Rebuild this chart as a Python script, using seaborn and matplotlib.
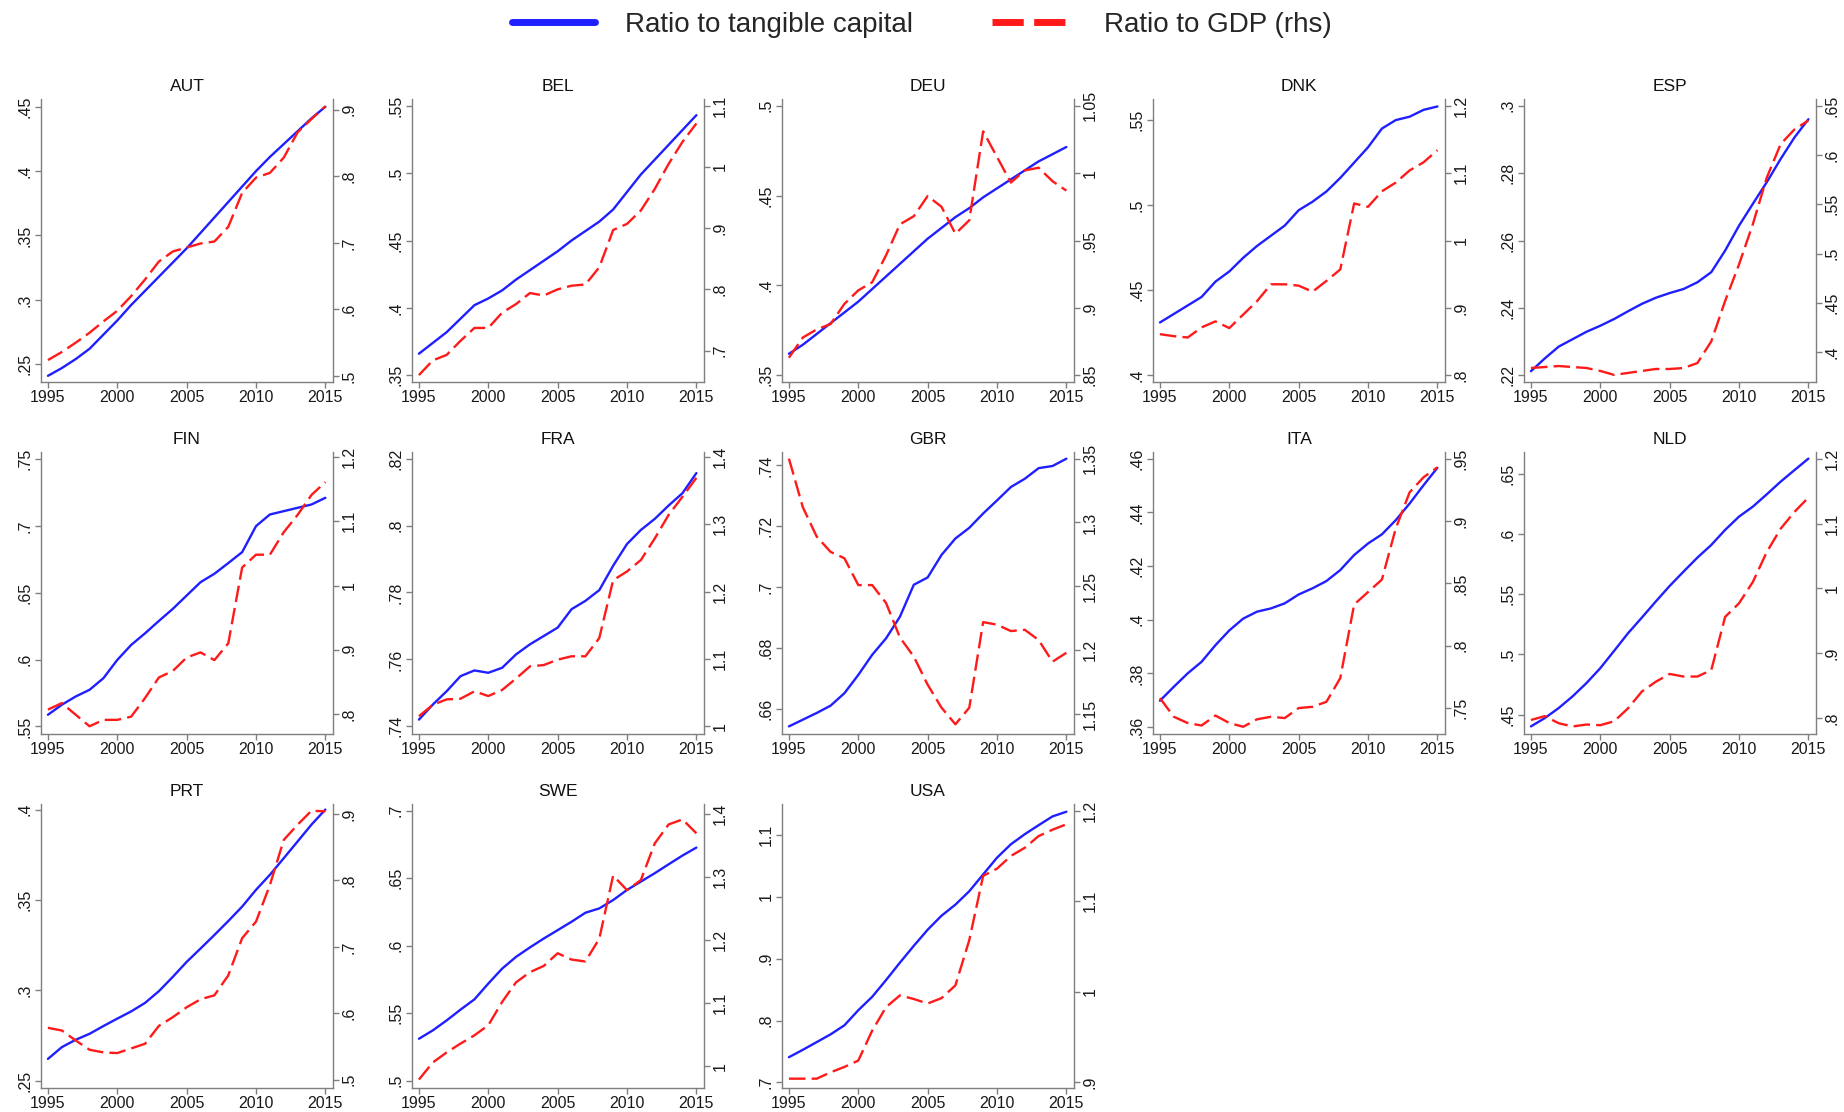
import matplotlib
matplotlib.use("Agg")
import matplotlib.pyplot as plt
from matplotlib.lines import Line2D
import seaborn as sns
import pandas as pd
import numpy as np

years = list(range(1995, 2016))
countries = ["AUT", "BEL", "DEU", "DNK", "ESP", "FIN", "FRA", "GBR", "ITA", "NLD", "PRT", "SWE", "USA"]

aut_cap = [.241,.247,.254,.262,.273,.284,.296,.307,.318,.329,.340,.352,.364,.376,.388,.400,.411,.421,.431,.441,.450]
aut_gdp = [.524,.536,.550,.565,.582,.598,.620,.645,.672,.687,.693,.699,.702,.724,.775,.798,.805,.828,.866,.886,.905]
bel_cap = [.366,.374,.382,.392,.402,.407,.413,.421,.428,.435,.442,.450,.457,.464,.473,.486,.499,.510,.521,.532,.543]
bel_gdp = [.660,.684,.693,.716,.737,.737,.762,.776,.794,.790,.800,.806,.808,.836,.897,.907,.929,.964,1.005,1.041,1.071]
deu_cap = [.362,.367,.373,.379,.385,.391,.398,.405,.412,.419,.426,.432,.438,.443,.449,.454,.459,.464,.469,.473,.477]
deu_gdp = [.863,.878,.884,.888,.903,.913,.919,.939,.962,.968,.983,.975,.955,.965,1.031,1.012,.993,1.002,1.004,.994,.987]
dnk_cap = [.431,.436,.441,.446,.455,.461,.469,.476,.482,.488,.497,.502,.508,.516,.525,.534,.545,.550,.552,.556,.558]
dnk_gdp = [.861,.858,.856,.871,.880,.870,.890,.910,.935,.935,.933,.924,.940,.957,1.055,1.050,1.073,1.086,1.104,1.116,1.134]
esp_cap = [.2212,.2250,.2285,.2307,.2329,.2347,.2367,.2390,.2412,.2430,.2444,.2456,.2476,.2506,.2570,.2644,.2709,.2773,.2842,.2906,.2960]
esp_gdp = [.384,.385,.386,.385,.384,.381,.377,.379,.381,.383,.383,.384,.389,.411,.452,.489,.530,.577,.611,.626,.635]
fin_cap = [.5587,.5662,.5724,.5774,.5861,.5998,.611,.6197,.629,.638,.648,.658,.6643,.6723,.6805,.700,.7087,.7112,.7137,.7162,.7212]
fin_gdp = [.807,.817,.799,.781,.791,.791,.796,.825,.857,.867,.888,.896,.884,.910,1.028,1.048,1.048,1.083,1.110,1.141,1.161]
fra_cap = [.742,.7465,.7505,.755,.7567,.756,.7575,.7615,.7645,.767,.7695,.775,.7775,.7807,.788,.7945,.7987,.802,.806,.8097,.8157]
fra_gdp = [1.015,1.032,1.040,1.041,1.052,1.045,1.054,1.071,1.089,1.091,1.099,1.104,1.104,1.131,1.217,1.230,1.247,1.279,1.314,1.341,1.369]
gbr_cap = [.6543,.6565,.6587,.6611,.6652,.6712,.6778,.6832,.6903,.7008,.7032,.7106,.716,.7195,.7242,.7285,.7329,.7356,.7391,.7398,.7422]
gbr_gdp = [1.350,1.312,1.289,1.277,1.272,1.251,1.251,1.237,1.210,1.195,1.173,1.155,1.142,1.155,1.222,1.220,1.215,1.216,1.208,1.191,1.198]
ita_cap = [.3698,.375,.380,.3843,.3905,.396,.4004,.403,.4042,.4061,.4094,.4117,.4144,.4185,.4241,.4284,.4318,.4371,.4433,.4501,.4566]
ita_gdp = [.758,.743,.738,.736,.744,.738,.735,.741,.743,.742,.750,.751,.755,.774,.833,.843,.853,.894,.923,.935,.943]
nld_cap = [.4403,.4472,.4555,.4652,.4762,.4886,.503,.5176,.5306,.5439,.5568,.5687,.5803,.5908,.6033,.6143,.6226,.6328,.6433,.6529,.6624]
nld_gdp = [.797,.803,.792,.787,.790,.789,.795,.815,.841,.856,.868,.864,.864,.874,.956,.977,1.010,1.056,1.092,1.118,1.140]
prt_cap = [.262,.2685,.2726,.2759,.2802,.2843,.2883,.293,.2995,.3074,.3157,.3231,.3306,.3383,.3463,.3556,.3639,.3731,.3824,.3917,.400]
prt_gdp = [.578,.574,.559,.545,.541,.540,.547,.554,.581,.594,.609,.621,.627,.657,.713,.738,.793,.861,.884,.905,.904]
swe_cap = [.531,.5372,.5446,.5526,.5602,.5719,.583,.5917,.5987,.6053,.6115,.6177,.6244,.6276,.6338,.6413,.6475,.6537,.6603,.6668,.6727]
swe_gdp = [.979,1.006,1.022,1.036,1.049,1.065,1.102,1.133,1.149,1.159,1.179,1.169,1.166,1.202,1.302,1.279,1.295,1.353,1.383,1.391,1.369]
usa_cap = [.7407,.7526,.7651,.7776,.7923,.8167,.8384,.8655,.8937,.9209,.947,.9697,.9876,1.0093,1.0365,1.0636,1.0853,1.1016,1.1162,1.1304,1.138]
usa_gdp = [.904,.904,.904,.911,.917,.924,.957,.983,.996,.992,.987,.993,1.007,1.057,1.128,1.136,1.150,1.159,1.172,1.179,1.185]

cap_series = [aut_cap, bel_cap, deu_cap, dnk_cap, esp_cap, fin_cap, fra_cap, gbr_cap, ita_cap, nld_cap, prt_cap, swe_cap, usa_cap]
gdp_series = [aut_gdp, bel_gdp, deu_gdp, dnk_gdp, esp_gdp, fin_gdp, fra_gdp, gbr_gdp, ita_gdp, nld_gdp, prt_gdp, swe_gdp, usa_gdp]

# tick labels (left / right axes)
left_ticks = [
    [.25,.3,.35,.4,.45], [.35,.4,.45,.5,.55], [.35,.4,.45,.5], [.4,.45,.5,.55], [.22,.24,.26,.28,.3],
    [.55,.6,.65,.7,.75], [.74,.76,.78,.8,.82], [.66,.68,.7,.72,.74], [.36,.38,.4,.42,.44,.46], [.45,.5,.55,.6,.65],
    [.25,.3,.35,.4], [.5,.55,.6,.65,.7], [.7,.8,.9,1,1.1]]
right_ticks = [
    [.5,.6,.7,.8,.9], [.7,.8,.9,1,1.1], [.85,.9,.95,1,1.05], [.8,.9,1,1.1,1.2], [.4,.45,.5,.55,.6,.65],
    [.8,.9,1,1.1,1.2], [1,1.1,1.2,1.3,1.4], [1.15,1.2,1.25,1.3,1.35], [.75,.8,.85,.9,.95], [.8,.9,1,1.1,1.2],
    [.5,.6,.7,.8,.9], [1,1.1,1.2,1.3,1.4], [.9,1,1.1,1.2]]
# axis ranges
left_lims = [(.2362,.456),(.345,.555),(.3463,.5037),(.396,.5624),(.218,.302),
             (.5443,.7555),(.7377,.822),(.6518,.7444),(.3574,.4625),(.434,.6679),
             (.2459,.4031),(.4945,.705),(.6908,1.1505)]
right_lims = [(.491,.916),(.6487,1.111),(.845,1.055),(.79,1.21),(.3698,.6568),
              (.769,1.2078),(.9886,1.4074),(1.1344,1.3552),(.7292,.9553),(.7754,1.2103),
              (.4874,.9151),(.9656,1.4154),(.8937,1.2074)]

sns.set_style("ticks")
plt.rcParams['font.family'] = ['Liberation Sans', 'DejaVu Sans']

W, H = 1844, 1112
fig = plt.figure(figsize=(W/100, H/100), dpi=100)

col_x = [41, 412, 782, 1153, 1524]
row_y = [(99, 382), (452, 734), (804, 1088)]
pw = 292

def fmt(v):
    s = ("%.2f" % v).rstrip('0').rstrip('.')
    if s.startswith("0."):
        s = s[1:]
    return s

spine_col = "#7f7f7f"
BLUE = "#1f1fff"
RED = "#ff1a1a"

for i, c in enumerate(countries):
    r, k = divmod(i, 5)
    top, bot = row_y[r]
    ax = fig.add_axes([col_x[k]/W, 1 - bot/H, pw/W, (bot-top)/H])
    df = pd.DataFrame({"year": years, "cap": cap_series[i], "gdp": gdp_series[i]})
    sns.lineplot(data=df, x="year", y="cap", ax=ax, color=BLUE, lw=1.7)
    ax2 = ax.twinx()
    sns.lineplot(data=df, x="year", y="gdp", ax=ax2, color=RED, lw=1.7, dashes=False)
    ax2.lines[0].set_dashes((7, 2.6))
    ax.set_xlim(1994.5, 2015.55)
    ax.set_ylim(*left_lims[i])
    ax2.set_ylim(*right_lims[i])
    ax.set_xticks([1995, 2000, 2005, 2010, 2015])
    ax.set_yticks(left_ticks[i])
    ax.set_yticklabels([fmt(v) for v in left_ticks[i]], rotation=90, va='center')
    ax2.set_yticks(right_ticks[i])
    ax2.set_yticklabels([fmt(v) for v in right_ticks[i]], rotation=90, va='center')
    ax.set_xlabel("")
    ax.set_ylabel("")
    ax2.set_ylabel("")
    ax.set_title(c, fontsize=12.5, pad=6, color="#111111")
    for a in (ax, ax2):
        a.spines['top'].set_visible(False)
        for s in ('left', 'right', 'bottom'):
            a.spines[s].set_color(spine_col)
            a.spines[s].set_linewidth(1.0)
        a.tick_params(axis='both', colors=spine_col, labelcolor="#1a1a1a",
                      labelsize=11.5, length=4, width=1.0, pad=2)
    ax2.spines['left'].set_visible(False)
    ax.spines['right'].set_visible(False)
    ax2.spines['bottom'].set_visible(False)

handles = [Line2D([0], [0], color=BLUE, lw=5),
           Line2D([0], [0], color=RED, lw=5, dashes=(4.5, 1.5))]
fig.legend(handles, ["Ratio to tangible capital", "Ratio to GDP (rhs)"],
           loc='upper center', bbox_to_anchor=(0.5, 1.012), ncol=2, frameon=False,
           fontsize=20, handlelength=3.0, columnspacing=2.85, handletextpad=1.05)

fig.savefig("out.png", dpi=100, facecolor="white")
